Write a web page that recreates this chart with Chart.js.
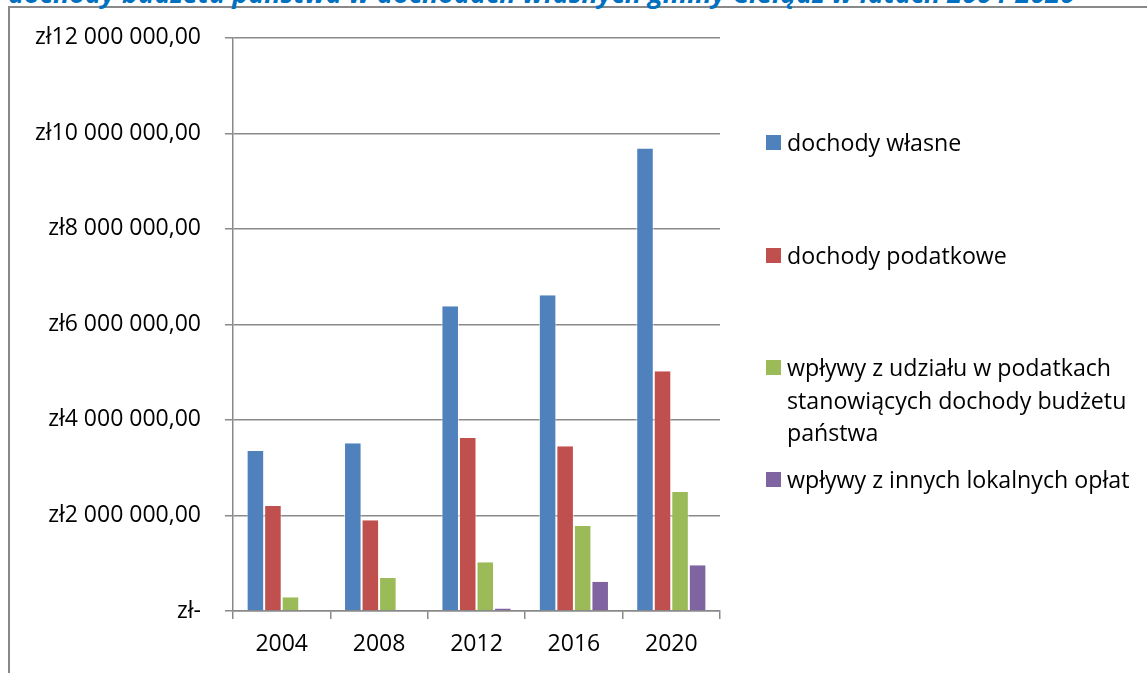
<!DOCTYPE html>
<html>
<head>
<meta charset="utf-8">
<script src="https://cdn.jsdelivr.net/npm/chart.js@4.4.1/dist/chart.umd.min.js"></script>
<style>
	html, body { margin: 0; padding: 0; background: #fff; overflow: hidden; }
	#wrap { position: relative; width: 1147px; height: 673px; overflow: hidden; font-family: "Open Sans", sans-serif; }
	#frame { position: absolute; left: 8px; top: 6px; width: 1200px; height: 700px; border-left: 2px solid #898989; border-top: 2px solid #898989; }
	#title { position: absolute; left: 8px; top: -23px; white-space: nowrap; color: #0070C0; font-weight: bold; font-style: italic; font-size: 27px; line-height: 32px; }
	#chartBox { position: absolute; left: 0; top: 0; width: 1147px; height: 673px; }
	.lg { position: absolute; left: 766px; font-size: 23.2px; color: #000; line-height: 32.5px; }
	.lg i { position: absolute; left: 0; top: 9px; width: 15px; height: 15px; }
	.lg span { display: block; margin-left: 21px; }
</style>
</head>
<body>
<div id="wrap">
	<div id="frame"></div>
	<div id="title">dochody budżetu państwa w dochodach własnych gminy Cielądz w latach 2004-2020</div>
	<div id="chartBox"><canvas id="incomeChart" width="1147" height="673"></canvas></div>
	<div id="legendArea"></div>
</div>
<script>
var years = ['2004', '2008', '2012', '2016', '2020'];
var seriesNames = [
	'dochody własne',
	'dochody podatkowe',
	'wpływy z udziału w podatkach stanowiących dochody budżetu państwa',
	'wpływy z innych lokalnych opłat'
];
var legendLines = [
	['dochody własne'],
	['dochody podatkowe'],
	['wpływy z udziału w podatkach', 'stanowiących dochody budżetu', 'państwa'],
	['wpływy z innych lokalnych opłat']
];
var ownIncome = [3350000, 3510000, 6380000, 6610000, 9680000];
var taxIncome = [2200000, 1900000, 3620000, 3450000, 5020000];
var stateTaxShare = [290000, 690000, 1020000, 1780000, 2490000];
var localFees = [0, 0, 50000, 610000, 960000];
var seriesColors = ['#4F81BD', '#C0504D', '#9BBB59', '#8064A2'];
var legendTops = [126, 239, 351, 463];

function plnLabel(v) {
	if (v == 0) { return 'zł-'; }
	var s = String(Math.round(v)).replace(/\B(?=(\d{3})+(?!\d))/g, ' ');
	return 'zł' + s + ',00';
}

var seriesValues = [ownIncome, taxIncome, stateTaxShare, localFees];
var datasets = new Array();
seriesValues.forEach(function(vals, index) {
	datasets.push({
		label: seriesNames[index],
		data: vals,
		backgroundColor: seriesColors[index],
		borderColor: 'rgba(255,255,255,0.6)',
		borderWidth: { left: 1, right: 1, top: 0, bottom: 0 },
		barPercentage: 1,
		categoryPercentage: 0.72
	});
});

var gridColor = '#898989';
var tickFont = { family: 'Open Sans', size: 23 };

var incomeChart = new Chart(document.getElementById('incomeChart'), {
	type: 'bar',
	data: { labels: years, datasets: datasets },
	options: {
		responsive: false,
		animation: false,
		layout: { padding: { left: 8, right: 427, top: 37, bottom: 0 } },
		plugins: { legend: { display: false }, tooltip: { enabled: false } },
		scales: {
			x: {
				grid: { offset: true, drawOnChartArea: false, drawTicks: true, tickLength: 8, color: gridColor, lineWidth: 1.5 },
				border: { color: gridColor, width: 1.5 },
				ticks: { color: '#000', font: tickFont, padding: 12 },
				afterFit: function(s) { s.height = 62; }
			},
			y: {
				min: 0,
				max: 12000000,
				grid: { color: gridColor, lineWidth: 1.5, tickLength: 8 },
				border: { color: gridColor, width: 1.5 },
				ticks: { stepSize: 2000000, color: '#000', font: tickFont, padding: 24, callback: function(v) { return plnLabel(v); } },
				afterFit: function(s) { s.width = 225; }
			}
		}
	}
});

var html = '';
legendLines.forEach(function(lines, index) {
	html += '<div class="lg" style="top:' + legendTops[index] + 'px">';
	html += '<i style="background:' + seriesColors[index] + '"></i>';
	lines.forEach(function(line) { html += '<span>' + line + '</span>'; });
	html += '</div>';
});
document.getElementById('legendArea').innerHTML = html;
</script>
</body>
</html>
